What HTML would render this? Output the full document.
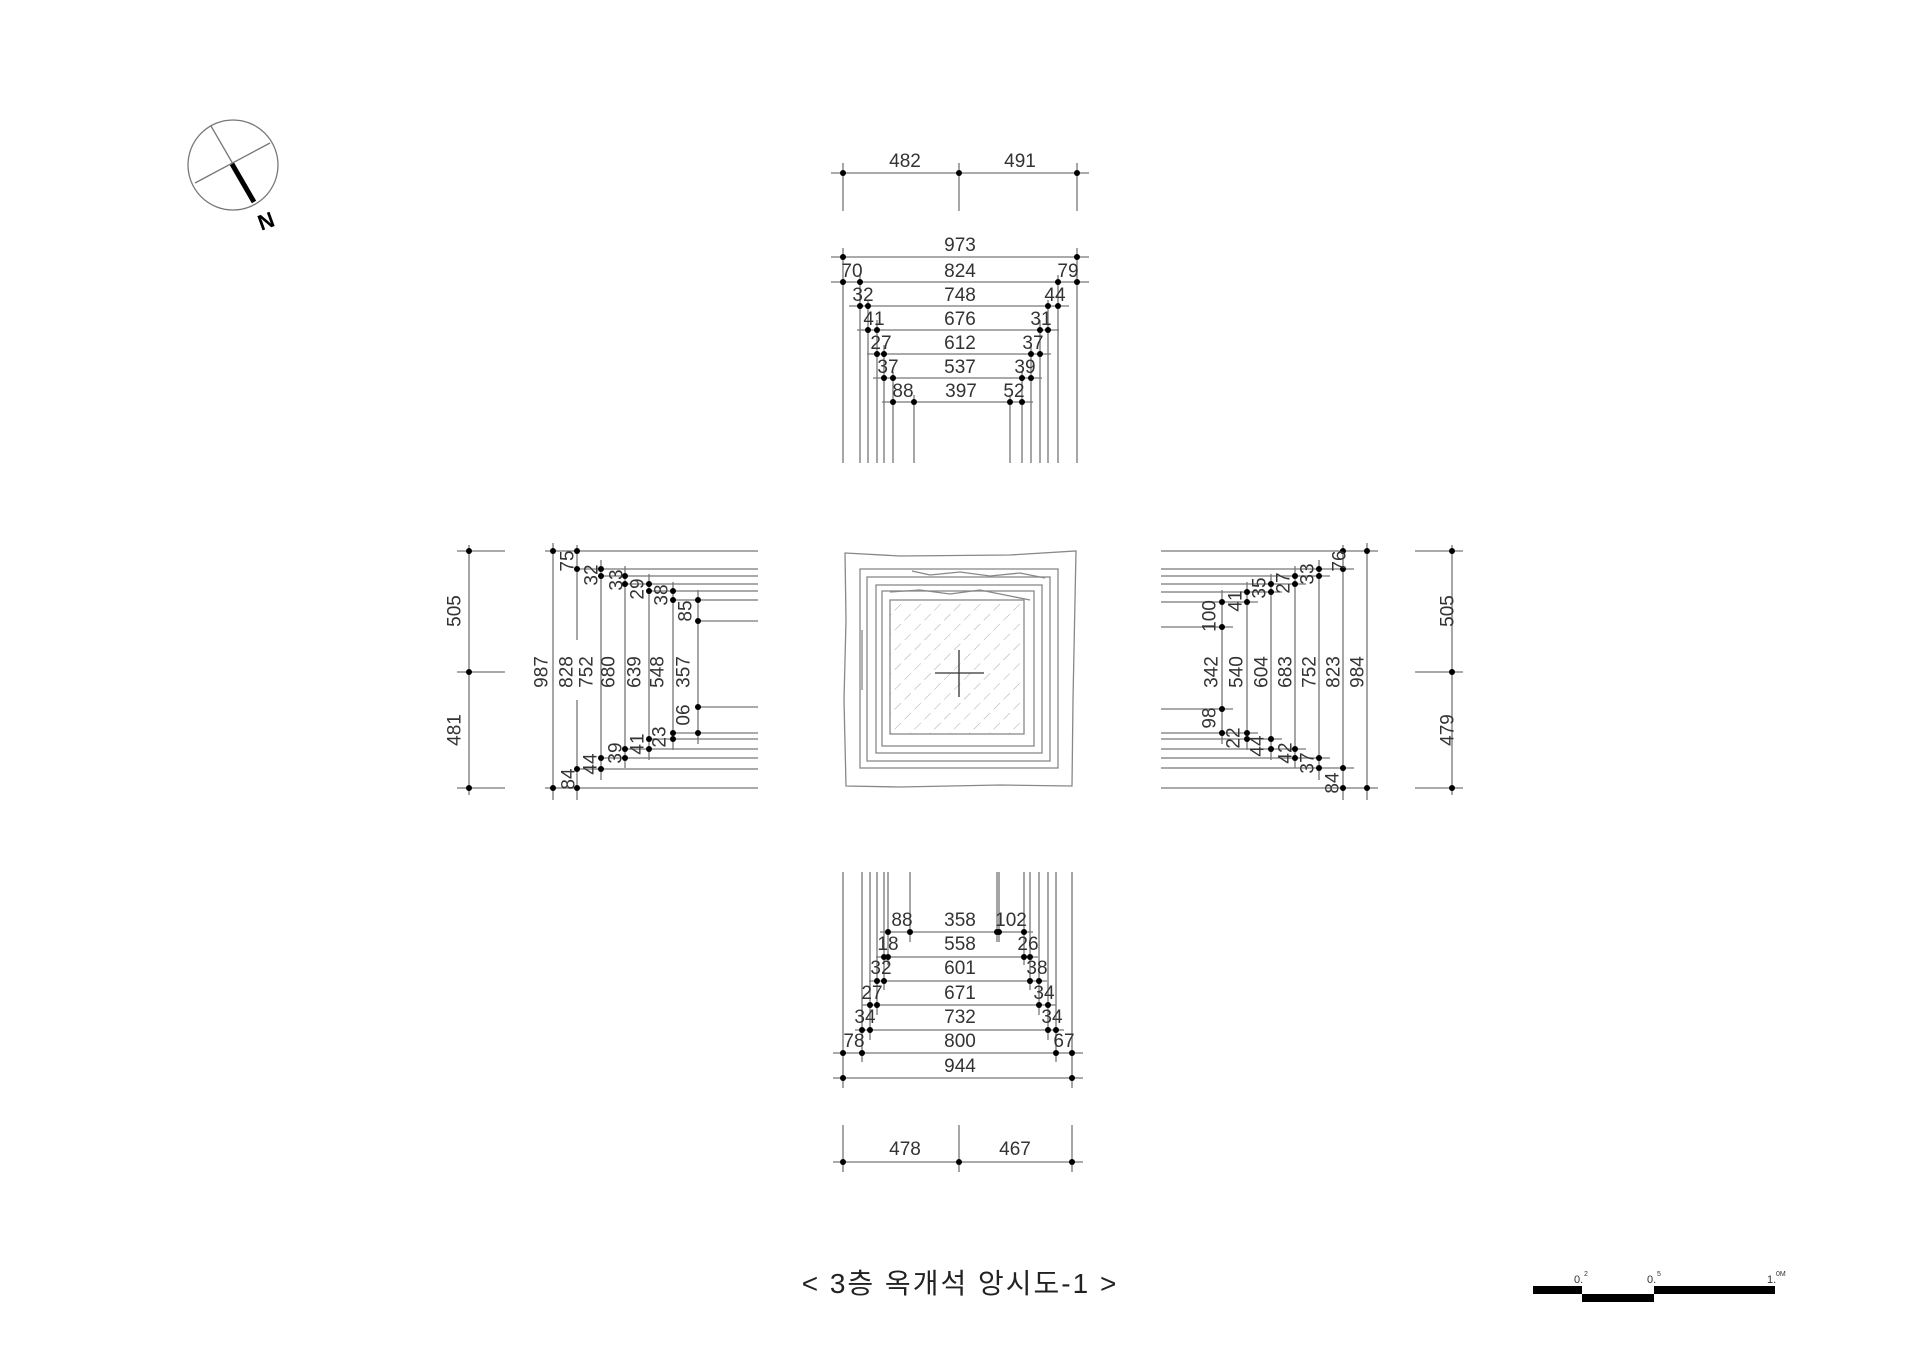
<!DOCTYPE html>
<html><head><meta charset="utf-8"><style>
html,body{margin:0;padding:0;background:#fff;}
svg{display:block;}
text{font-family:"Liberation Sans","Noto Sans CJK KR",sans-serif;fill:#333;}
</style></head><body>
<svg width="1920" height="1356" viewBox="0 0 1920 1356" xmlns="http://www.w3.org/2000/svg">
<defs>
<pattern id="h" width="14" height="14" patternUnits="userSpaceOnUse" patternTransform="rotate(45)">
<line x1="0" y1="0" x2="0" y2="14" stroke="#aaa" stroke-width="1" stroke-dasharray="9 5"/>
</pattern>
</defs>
<g stroke="#777" stroke-width="1.3" fill="none">
<line x1="831" y1="173" x2="1089" y2="173"/>
<line x1="843" y1="163" x2="843" y2="211"/><line x1="959" y1="163" x2="959" y2="211"/><line x1="1077" y1="163" x2="1077" y2="211"/>
<line x1="831" y1="257" x2="1089" y2="257"/>
<line x1="831" y1="282" x2="1089" y2="282"/>
<line x1="849" y1="306" x2="1069" y2="306"/>
<line x1="857" y1="330" x2="1059" y2="330"/>
<line x1="867" y1="354" x2="1051" y2="354"/>
<line x1="873" y1="378" x2="1042" y2="378"/>
<line x1="882" y1="402" x2="1033" y2="402"/>
<line x1="843" y1="248" x2="843" y2="463"/><line x1="860" y1="275" x2="860" y2="463"/><line x1="868" y1="300" x2="868" y2="463"/>
<line x1="877" y1="320" x2="877" y2="463"/><line x1="884" y1="345" x2="884" y2="463"/><line x1="893" y1="372" x2="893" y2="463"/>
<line x1="914" y1="395" x2="914" y2="463"/>
<line x1="1010" y1="395" x2="1010" y2="463"/><line x1="1022" y1="372" x2="1022" y2="463"/><line x1="1031" y1="345" x2="1031" y2="463"/>
<line x1="1040" y1="320" x2="1040" y2="463"/><line x1="1048" y1="300" x2="1048" y2="463"/><line x1="1058" y1="275" x2="1058" y2="463"/>
<line x1="1077" y1="248" x2="1077" y2="463"/>
<line x1="843" y1="872" x2="843" y2="1088"/><line x1="862" y1="872" x2="862" y2="1062"/><line x1="870" y1="872" x2="870" y2="1040"/>
<line x1="877" y1="872" x2="877" y2="1015"/><line x1="884" y1="872" x2="884" y2="990"/><line x1="888" y1="872" x2="888" y2="965"/>
<line x1="910" y1="872" x2="910" y2="942"/>
<line x1="997" y1="872" x2="997" y2="942"/><line x1="999" y1="872" x2="999" y2="942"/>
<line x1="1024" y1="872" x2="1024" y2="965"/><line x1="1030" y1="872" x2="1030" y2="990"/><line x1="1039" y1="872" x2="1039" y2="1015"/>
<line x1="1048" y1="872" x2="1048" y2="1040"/><line x1="1056" y1="872" x2="1056" y2="1062"/><line x1="1072" y1="872" x2="1072" y2="1088"/>
<line x1="880" y1="932" x2="1033" y2="932"/>
<line x1="876" y1="957" x2="1038" y2="957"/>
<line x1="869" y1="981" x2="1047" y2="981"/>
<line x1="862" y1="1005" x2="1056" y2="1005"/>
<line x1="855" y1="1030" x2="1064" y2="1030"/>
<line x1="833" y1="1053" x2="1083" y2="1053"/>
<line x1="833" y1="1078" x2="1083" y2="1078"/>
<line x1="833" y1="1162" x2="1083" y2="1162"/>
<line x1="843" y1="1125" x2="843" y2="1172"/><line x1="959" y1="1125" x2="959" y2="1172"/><line x1="1072" y1="1125" x2="1072" y2="1172"/>
<line x1="469" y1="545" x2="469" y2="795"/>
<line x1="457" y1="551" x2="505" y2="551"/><line x1="457" y1="672" x2="505" y2="672"/><line x1="457" y1="788" x2="505" y2="788"/>
<line x1="553" y1="543" x2="553" y2="800"/>
<line x1="577" y1="545" x2="577" y2="640"/><line x1="577" y1="700" x2="577" y2="800"/>
<line x1="601" y1="560" x2="601" y2="780"/><line x1="625" y1="566" x2="625" y2="768"/><line x1="649" y1="574" x2="649" y2="760"/>
<line x1="673" y1="582" x2="673" y2="750"/><line x1="698" y1="590" x2="698" y2="744"/>
<line x1="545" y1="551" x2="758" y2="551"/><line x1="577" y1="569" x2="758" y2="569"/><line x1="601" y1="576" x2="758" y2="576"/>
<line x1="625" y1="584" x2="758" y2="584"/><line x1="649" y1="591" x2="758" y2="591"/><line x1="673" y1="600" x2="758" y2="600"/>
<line x1="698" y1="621" x2="758" y2="621"/><line x1="698" y1="707" x2="758" y2="707"/><line x1="673" y1="733" x2="758" y2="733"/>
<line x1="649" y1="739" x2="758" y2="739"/><line x1="625" y1="749" x2="758" y2="749"/><line x1="601" y1="758" x2="758" y2="758"/>
<line x1="577" y1="769" x2="758" y2="769"/><line x1="545" y1="788" x2="758" y2="788"/>
<line x1="1452" y1="545" x2="1452" y2="795"/>
<line x1="1415" y1="551" x2="1463" y2="551"/><line x1="1415" y1="672" x2="1463" y2="672"/><line x1="1415" y1="788" x2="1463" y2="788"/>
<line x1="1367" y1="543" x2="1367" y2="800"/><line x1="1343" y1="545" x2="1343" y2="800"/>
<line x1="1319" y1="560" x2="1319" y2="780"/><line x1="1295" y1="566" x2="1295" y2="768"/><line x1="1271" y1="574" x2="1271" y2="760"/>
<line x1="1247" y1="582" x2="1247" y2="750"/><line x1="1222" y1="590" x2="1222" y2="744"/>
<line x1="1161" y1="551" x2="1378" y2="551"/><line x1="1161" y1="569" x2="1354" y2="569"/><line x1="1161" y1="576" x2="1330" y2="576"/>
<line x1="1161" y1="584" x2="1306" y2="584"/><line x1="1161" y1="592" x2="1282" y2="592"/><line x1="1161" y1="602" x2="1258" y2="602"/>
<line x1="1161" y1="627" x2="1233" y2="627"/><line x1="1161" y1="709" x2="1233" y2="709"/><line x1="1161" y1="733" x2="1258" y2="733"/>
<line x1="1161" y1="739" x2="1282" y2="739"/><line x1="1161" y1="749" x2="1306" y2="749"/><line x1="1161" y1="758" x2="1330" y2="758"/>
<line x1="1161" y1="768" x2="1354" y2="768"/><line x1="1161" y1="788" x2="1378" y2="788"/>
</g>
<g fill="#000">
<circle cx="843" cy="173" r="3"/><circle cx="959" cy="173" r="3"/><circle cx="1077" cy="173" r="3"/>
<circle cx="843" cy="257" r="3"/><circle cx="1077" cy="257" r="3"/>
<circle cx="843" cy="282" r="3"/><circle cx="860" cy="282" r="3"/><circle cx="1058" cy="282" r="3"/><circle cx="1077" cy="282" r="3"/>
<circle cx="860" cy="306" r="3"/><circle cx="868" cy="306" r="3"/><circle cx="1048" cy="306" r="3"/><circle cx="1058" cy="306" r="3"/>
<circle cx="868" cy="330" r="3"/><circle cx="877" cy="330" r="3"/><circle cx="1040" cy="330" r="3"/><circle cx="1048" cy="330" r="3"/>
<circle cx="877" cy="354" r="3"/><circle cx="884" cy="354" r="3"/><circle cx="1031" cy="354" r="3"/><circle cx="1040" cy="354" r="3"/>
<circle cx="884" cy="378" r="3"/><circle cx="893" cy="378" r="3"/><circle cx="1022" cy="378" r="3"/><circle cx="1031" cy="378" r="3"/>
<circle cx="893" cy="402" r="3"/><circle cx="914" cy="402" r="3"/><circle cx="1010" cy="402" r="3"/><circle cx="1022" cy="402" r="3"/>
<circle cx="888" cy="932" r="3"/><circle cx="910" cy="932" r="3"/><circle cx="997" cy="932" r="3"/><circle cx="999" cy="932" r="3"/><circle cx="1024" cy="932" r="3"/>
<circle cx="884" cy="957" r="3"/><circle cx="888" cy="957" r="3"/><circle cx="1024" cy="957" r="3"/><circle cx="1030" cy="957" r="3"/>
<circle cx="877" cy="981" r="3"/><circle cx="884" cy="981" r="3"/><circle cx="1030" cy="981" r="3"/><circle cx="1039" cy="981" r="3"/>
<circle cx="870" cy="1005" r="3"/><circle cx="877" cy="1005" r="3"/><circle cx="1039" cy="1005" r="3"/><circle cx="1048" cy="1005" r="3"/>
<circle cx="862" cy="1030" r="3"/><circle cx="870" cy="1030" r="3"/><circle cx="1048" cy="1030" r="3"/><circle cx="1056" cy="1030" r="3"/>
<circle cx="843" cy="1053" r="3"/><circle cx="862" cy="1053" r="3"/><circle cx="1056" cy="1053" r="3"/><circle cx="1072" cy="1053" r="3"/>
<circle cx="843" cy="1078" r="3"/><circle cx="1072" cy="1078" r="3"/>
<circle cx="843" cy="1162" r="3"/><circle cx="959" cy="1162" r="3"/><circle cx="1072" cy="1162" r="3"/>
<circle cx="469" cy="551" r="3"/><circle cx="469" cy="672" r="3"/><circle cx="469" cy="788" r="3"/>
<circle cx="553" cy="551" r="3"/><circle cx="553" cy="788" r="3"/>
<circle cx="577" cy="551" r="3"/><circle cx="577" cy="569" r="3"/><circle cx="577" cy="769" r="3"/><circle cx="577" cy="788" r="3"/>
<circle cx="601" cy="569" r="3"/><circle cx="601" cy="576" r="3"/><circle cx="601" cy="758" r="3"/><circle cx="601" cy="769" r="3"/>
<circle cx="625" cy="576" r="3"/><circle cx="625" cy="584" r="3"/><circle cx="625" cy="749" r="3"/><circle cx="625" cy="758" r="3"/>
<circle cx="649" cy="584" r="3"/><circle cx="649" cy="591" r="3"/><circle cx="649" cy="739" r="3"/><circle cx="649" cy="749" r="3"/>
<circle cx="673" cy="591" r="3"/><circle cx="673" cy="600" r="3"/><circle cx="673" cy="733" r="3"/><circle cx="673" cy="739" r="3"/>
<circle cx="698" cy="600" r="3"/><circle cx="698" cy="621" r="3"/><circle cx="698" cy="707" r="3"/><circle cx="698" cy="733" r="3"/>
<circle cx="1452" cy="551" r="3"/><circle cx="1452" cy="672" r="3"/><circle cx="1452" cy="788" r="3"/>
<circle cx="1367" cy="551" r="3"/><circle cx="1367" cy="788" r="3"/>
<circle cx="1343" cy="551" r="3"/><circle cx="1343" cy="569" r="3"/><circle cx="1343" cy="768" r="3"/><circle cx="1343" cy="788" r="3"/>
<circle cx="1319" cy="569" r="3"/><circle cx="1319" cy="576" r="3"/><circle cx="1319" cy="758" r="3"/><circle cx="1319" cy="768" r="3"/>
<circle cx="1295" cy="576" r="3"/><circle cx="1295" cy="584" r="3"/><circle cx="1295" cy="749" r="3"/><circle cx="1295" cy="758" r="3"/>
<circle cx="1271" cy="584" r="3"/><circle cx="1271" cy="592" r="3"/><circle cx="1271" cy="739" r="3"/><circle cx="1271" cy="749" r="3"/>
<circle cx="1247" cy="592" r="3"/><circle cx="1247" cy="602" r="3"/><circle cx="1247" cy="733" r="3"/><circle cx="1247" cy="739" r="3"/>
<circle cx="1222" cy="602" r="3"/><circle cx="1222" cy="627" r="3"/><circle cx="1222" cy="709" r="3"/><circle cx="1222" cy="733" r="3"/>
</g>
<g font-size="19" text-anchor="middle">
<text x="905" y="167">482</text><text x="1020" y="167">491</text>
<text x="960" y="251">973</text>
<text x="960" y="277">824</text><text x="852" y="277">70</text><text x="1068" y="277">79</text>
<text x="960" y="301">748</text><text x="863" y="301">32</text><text x="1055" y="301">44</text>
<text x="960" y="325">676</text><text x="874" y="325">41</text><text x="1041" y="325">31</text>
<text x="960" y="349">612</text><text x="881" y="349">27</text><text x="1033" y="349">37</text>
<text x="960" y="373">537</text><text x="888" y="373">37</text><text x="1025" y="373">39</text>
<text x="961" y="397">397</text><text x="903" y="397">88</text><text x="1014" y="397">52</text>
<text x="960" y="926">358</text><text x="902" y="926">88</text><text x="1011" y="926">102</text>
<text x="960" y="950">558</text><text x="888" y="950">18</text><text x="1028" y="950">26</text>
<text x="960" y="974">601</text><text x="881" y="974">32</text><text x="1037" y="974">38</text>
<text x="960" y="999">671</text><text x="872" y="999">27</text><text x="1044" y="999">34</text>
<text x="960" y="1023">732</text><text x="865" y="1023">34</text><text x="1052" y="1023">34</text>
<text x="960" y="1047">800</text><text x="854" y="1047">78</text><text x="1064" y="1047">67</text>
<text x="960" y="1072">944</text>
<text x="905" y="1155">478</text><text x="1015" y="1155">467</text>
</g>
<g font-size="19" text-anchor="middle" dominant-baseline="central">
<text transform="translate(455,611) rotate(-90)">505</text>
<text transform="translate(455,730) rotate(-90)">481</text>
<text transform="translate(542,672) rotate(-90)">987</text>
<text transform="translate(567,672) rotate(-90)">828</text>
<text transform="translate(587,672) rotate(-90)">752</text>
<text transform="translate(609,672) rotate(-90)">680</text>
<text transform="translate(635,672) rotate(-90)">639</text>
<text transform="translate(658,672) rotate(-90)">548</text>
<text transform="translate(684,672) rotate(-90)">357</text>
<text transform="translate(568,561) rotate(-90)">75</text>
<text transform="translate(592,575) rotate(-90)">32</text>
<text transform="translate(617,580) rotate(-90)">33</text>
<text transform="translate(638,589) rotate(-90)">29</text>
<text transform="translate(662,595) rotate(-90)">38</text>
<text transform="translate(686,611) rotate(-90)">85</text>
<text transform="translate(684,715) rotate(-90)">06</text>
<text transform="translate(660,737) rotate(-90)">23</text>
<text transform="translate(638,744) rotate(-90)">41</text>
<text transform="translate(616,753) rotate(-90)">39</text>
<text transform="translate(591,764) rotate(-90)">44</text>
<text transform="translate(569,779) rotate(-90)">84</text>
<text transform="translate(1448,611) rotate(-90)">505</text>
<text transform="translate(1448,730) rotate(-90)">479</text>
<text transform="translate(1358,672) rotate(-90)">984</text>
<text transform="translate(1334,672) rotate(-90)">823</text>
<text transform="translate(1310,672) rotate(-90)">752</text>
<text transform="translate(1286,672) rotate(-90)">683</text>
<text transform="translate(1262,672) rotate(-90)">604</text>
<text transform="translate(1237,672) rotate(-90)">540</text>
<text transform="translate(1212,672) rotate(-90)">342</text>
<text transform="translate(1210,616) rotate(-90)">100</text>
<text transform="translate(1236,601) rotate(-90)">41</text>
<text transform="translate(1260,588) rotate(-90)">35</text>
<text transform="translate(1284,583) rotate(-90)">27</text>
<text transform="translate(1308,574) rotate(-90)">33</text>
<text transform="translate(1340,561) rotate(-90)">76</text>
<text transform="translate(1210,718) rotate(-90)">98</text>
<text transform="translate(1234,738) rotate(-90)">22</text>
<text transform="translate(1258,746) rotate(-90)">44</text>
<text transform="translate(1286,753) rotate(-90)">42</text>
<text transform="translate(1308,763) rotate(-90)">37</text>
<text transform="translate(1333,783) rotate(-90)">84</text>
</g>
<rect x="890" y="601" width="134" height="133" fill="url(#h)"/>
<g stroke="#888" stroke-width="1.3" fill="none">
<path d="M845,553 L900,556 L1010,555 L1076,551 L1075,600 L1073,700 L1072,786 L1000,785 L900,787 L846,786 L844,700 L846,620 Z"/>
<rect x="860" y="569" width="198" height="199"/>
<rect x="867" y="577" width="183" height="184"/>
<rect x="876" y="585" width="166" height="168"/>
<rect x="882" y="591" width="152" height="155"/>
<rect x="890" y="600" width="134" height="134"/>
<path d="M912,571 L930,575 L960,572 L990,576 L1020,573 L1045,578"/>
<path d="M890,592 L920,590 L950,594 L980,590 L1010,596 L1030,600"/>
<line x1="862" y1="630" x2="862" y2="690"/>
</g>
<g stroke="#333" stroke-width="1.3">
<line x1="935" y1="673" x2="984" y2="673"/><line x1="959" y1="650" x2="959" y2="697"/>
</g>
<g stroke="#777" stroke-width="1.3" fill="none">
<circle cx="233" cy="165" r="45"/>
<line x1="211" y1="126" x2="233" y2="164"/>
<line x1="195" y1="183" x2="270" y2="143"/>
</g>
<line x1="232" y1="164" x2="254" y2="202" stroke="#000" stroke-width="5"/>
<text transform="translate(266,221) rotate(160)" font-size="22" font-weight="bold" text-anchor="middle" dominant-baseline="central" style="fill:#000">N</text>
<text x="960" y="1293" font-size="28" text-anchor="middle" letter-spacing="2" style="fill:#222">&lt; 3층 옥개석 앙시도-1 &gt;</text>
<g fill="#000">
<rect x="1533" y="1286" width="49" height="8"/>
<rect x="1582" y="1294" width="72" height="8"/>
<rect x="1654" y="1286" width="121" height="8"/>
</g>
<g font-size="11" style="fill:#666">
<text x="1574" y="1283">0.</text><text x="1584" y="1276" font-size="7">2</text>
<text x="1647" y="1283">0.</text><text x="1657" y="1276" font-size="7">5</text>
<text x="1767" y="1283">1.</text><text x="1776" y="1276" font-size="7">0M</text>
</g>
</svg>
</body></html>
